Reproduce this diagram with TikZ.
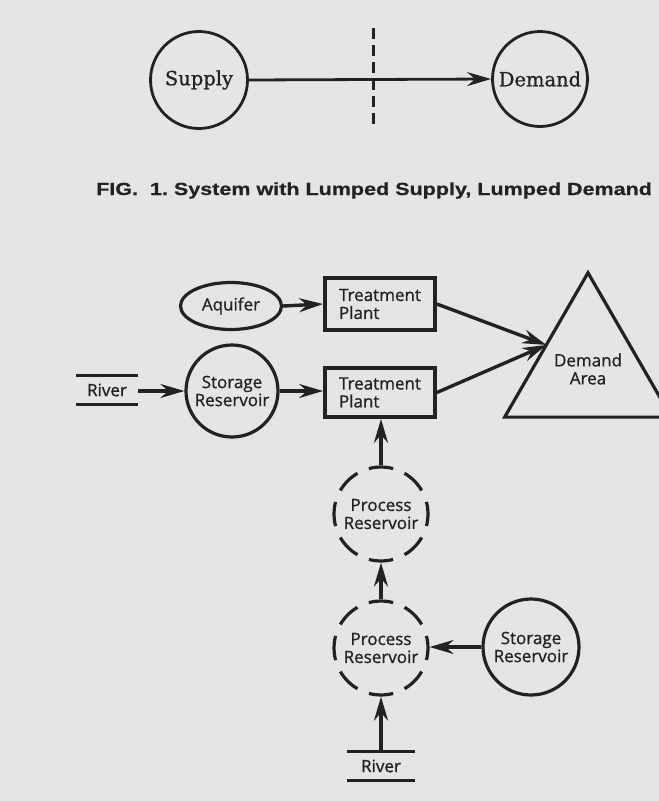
\documentclass[tikz,border=0pt]{standalone}
\usepackage{fontspec}
\usepackage{tikz}
\usetikzlibrary{arrows.meta, shapes.geometric}

\newfontfamily\serlab[FakeBold=0.8]{DejaVu Serif}
\newfontfamily\sanlab[FakeBold=0.9]{Open Sans}
\newfontfamily\figcap[FakeStretch=1.23, FakeBold=0.6]{Liberation Sans}
\newcommand{\labfont}{\sanlab\fontsize{17}{18}\selectfont}

\definecolor{paper}{RGB}{229,229,229}
\definecolor{ink}{RGB}{34,34,34}

\begin{document}
\begin{tikzpicture}[
    x=1pt, y=-1pt,
    >={Stealth[length=24pt, width=14pt, inset=8pt]},
    color=ink, text=ink
]

    % Styles for both figures
    \tikzset{
        lumped/.style={draw, circle, line width=2.8pt, minimum size=97pt,
            inner sep=0pt, font=\serlab\fontsize{19.5}{22}\selectfont},
        cutline/.style={line width=3pt, dash pattern=on 11pt off 6pt},
        flow/.style={->, line width=3.4pt},
        plant/.style={draw, rectangle, line width=3.8pt, minimum width=110pt,
            inner sep=0pt, align=left, font=\labfont},
        storres/.style={draw, circle, line width=3.2pt, minimum size=94pt,
            inner sep=0pt, align=center, font=\labfont},
        % 8 dashes round the circle, one centred on each compass point
        procres/.style={storres, dash pattern=on 24.5pt off 12.41pt,
            dash phase=12.25pt},
        bank/.style={inner sep=0pt, minimum height=29pt, font=\labfont}
    }

    % Paper
    \fill[paper] (0,0) rectangle (659,801);
    \useasboundingbox (0,0) rectangle (659,801);

    % FIG. 1: lumped supply, lumped demand
    \node[lumped] (supply) at (199,80) {Supply};
    \node[lumped, minimum size=95pt] (demand) at (540,79) {Demand};
    \draw[->, line width=2.8pt] (supply.east) -- (demand.west);

    \coordinate (cuttop) at (373,28);
    \coordinate (cutbot) at (373,128);
    \draw[cutline] (cuttop) -- (cutbot);

    \node[anchor=base west, inner sep=0pt,
        font=\figcap\bfseries\fontsize{17.5}{20}\selectfont] (cap) at (96,195)
        {FIG.\ \ 1.\ System with Lumped Supply, Lumped Demand};

    % Supply side, upper row
    \node[draw, ellipse, line width=3.2pt, minimum width=101pt,
        minimum height=47pt, inner sep=0pt, font=\labfont] (aquifer) at (231,306) {Aquifer};
    \node[plant, minimum height=52pt] (tp1) at (380,304) {Treatment\\Plant};

    % Supply side, lower row
    \node[bank, minimum width=62pt] (river1) at (107,390) {River};
    \node[storres, minimum size=92pt] (sres1) at (232,391) {Storage\\Reservoir};
    \node[plant, minimum height=49pt] (tp2) at (380,392.5) {Treatment\\Plant};

    % Demand area
    \node[draw, regular polygon, regular polygon sides=3, line width=3.2pt,
        minimum size=185pt, inner sep=0pt, outer sep=0pt, align=center,
        font=\labfont] (area) at (588,369) {Demand\\Area};

    % Process reservoirs below
    \node[procres] (pr1) at (381,514) {Process\\Reservoir};
    \node[procres] (pr2) at (381,648) {Process\\Reservoir};
    \node[storres, minimum size=96pt] (sres2) at (531,647) {Storage\\Reservoir};
    \node[bank, minimum width=68pt, minimum height=28pt] (river2) at (381,766) {River};

    % River banks
    \foreach \r in {river1, river2}
        \draw[line width=3pt] (\r.north west) -- (\r.north east)
            (\r.south west) -- (\r.south east);

    % Flows
    \draw[flow] (aquifer.east) -- (tp1.west);
    \draw[flow] (river1.east |- sres1.west) -- (sres1.west);
    \draw[flow] (sres1.east) -- (tp2.west |- sres1.east);
    \draw[flow] (tp1.east) -- (area.side 1);
    \draw[flow] (tp2.east) -- (area.side 1);
    \draw[flow] (pr1.north) -- (tp2.south -| pr1.north);
    \draw[flow] (pr2.north) -- (pr1.south);
    \draw[flow] (sres2.west) -- (pr2.east |- sres2.west);
    \draw[flow] (river2.north) -- (pr2.south);

\end{tikzpicture}
\end{document}
